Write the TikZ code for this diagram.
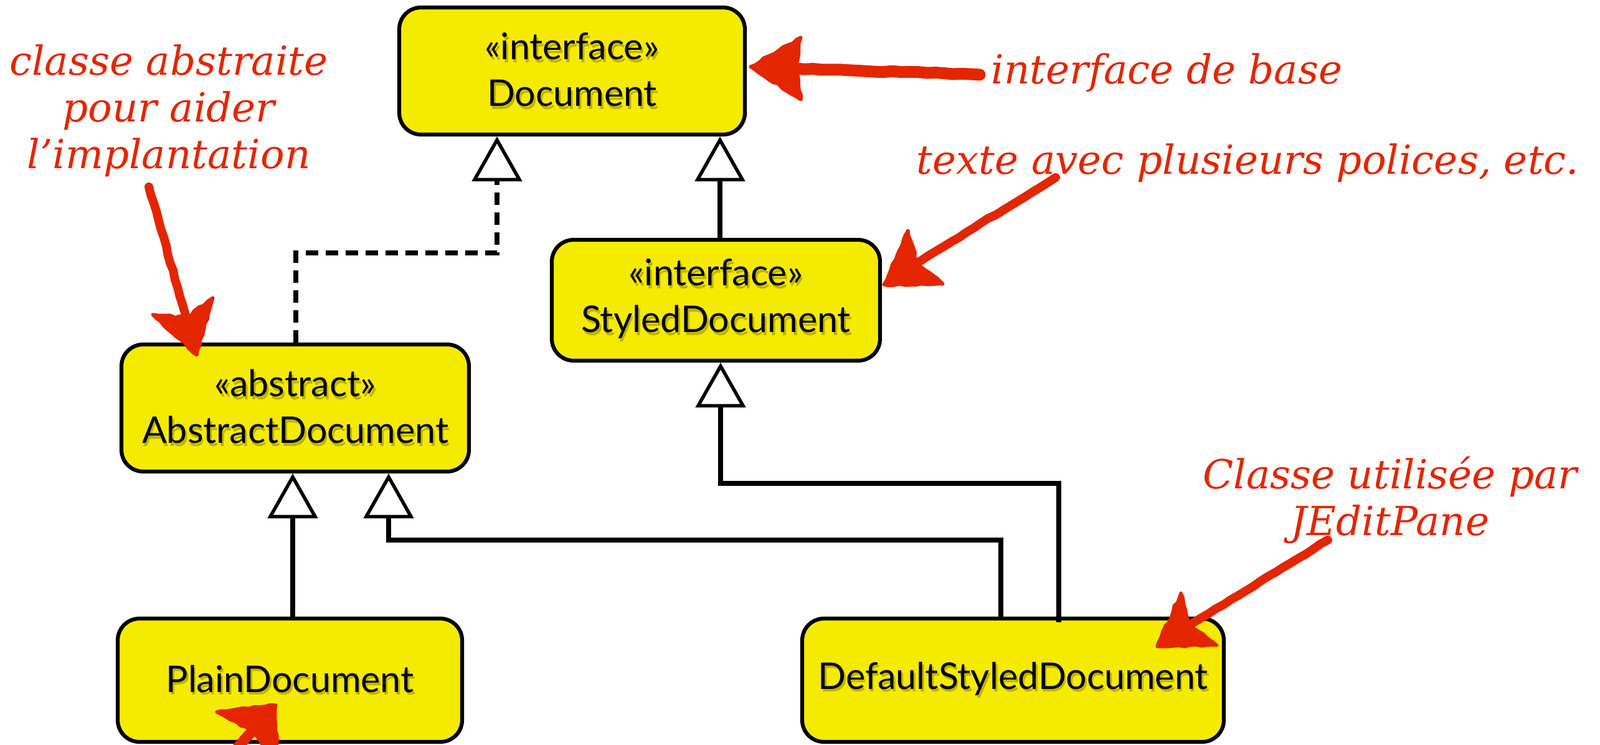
\documentclass[tikz,border=0pt]{standalone}
\usepackage{fontspec}
\setmainfont{Lato}
\newfontfamily\annfont{DejaVu Serif}
\usetikzlibrary{arrows.meta,decorations.pathmorphing,calc}
\definecolor{umlyellow}{RGB}{245,235,0}
\definecolor{shadowyellow}{RGB}{190,180,0}
\definecolor{notered}{RGB}{227,38,0}
\newcommand{\shd}[1]{\leavevmode\rlap{\kern0.8pt\raisebox{-1.3pt}{\textcolor{shadowyellow}{#1}}}#1}
\tikzset{
  umlbox/.style={draw=black, line width=0.062cm, fill=umlyellow, rounded corners=0.35cm,
    inner sep=0pt, align=center, font=\fontsize{16.8pt}{21.3pt}\selectfont},
  gen/.style={line width=0.072cm,
    -{Triangle[fill=white, length=0.72cm, width=0.80cm, line width=0.055cm]}},
  real/.style={gen, dash pattern=on 0.2cm off 0.12cm, line width=0.08cm},
  note/.style={text=notered, inner sep=0pt, align=center,
    font=\annfont\itshape\fontsize{18.3pt}{21.3pt}\selectfont},
  chalkshaft/.style={draw=notered, line cap=round, line join=round, decorate,
    decoration={random steps, segment length=4pt, amplitude=0.3pt}},
  chalkhead/.style={draw=notered, fill=notered, line width=1.5pt, line join=round, decorate,
    decoration={random steps, segment length=2.5pt, amplitude=0.5pt}}
}
\begin{document}
\begin{tikzpicture}
\useasboundingbox (0,0) rectangle (25.69,-11.96);
\clip (0,0) rectangle (25.69,-11.96);

% UML boxes
\node[umlbox, minimum width=5.55cm, minimum height=2.04cm] (doc) at (9.185,-1.14) {\shd{«interface»}\\\shd{Document}};
\node[umlbox, minimum width=5.27cm, minimum height=1.94cm] (styled) at (11.495,-4.82) {\shd{«interface»}\\\shd{StyledDocument}};
\node[umlbox, minimum width=5.58cm, minimum height=2.04cm] (abstract) at (4.74,-6.55) {\shd{«abstract»}\\\shd{AbstractDocument}};
\node[umlbox, minimum width=5.53cm, minimum height=1.98cm] (plain) at (4.655,-10.92) {\shd{PlainDocument}};
\node[umlbox, minimum width=6.77cm, minimum height=1.98cm] (dsd) at (16.265,-10.92) {\shd{DefaultStyledDocument}};

% bend points
\coordinate (d1) at (4.75,-4.06);
\coordinate (d2) at (7.98,-4.06);
\coordinate (s1) at (11.56,-4.06);
\coordinate (p1) at (4.70,-8.00);
\coordinate (a1) at (16.07,-8.67);
\coordinate (a2) at (6.24,-8.67);
\coordinate (b1) at (17.00,-7.76);
\coordinate (b2) at (11.57,-7.76);

% connectors
\draw[real] (abstract.north -| d1) -- (d1) -- (d2) -- (doc.south -| d2);
\draw[gen] (styled.north -| s1) -- (doc.south -| s1);
\draw[gen] (plain.north -| p1) -- (abstract.south -| p1);
\draw[gen] (dsd.north -| a1) -- (a1) -- (a2) -- (abstract.south -| a2);
\draw[gen] ($(dsd.north -| b1)+(0,-0.09)$) -- (b1) -- (b2) -- (styled.south -| b2);

% annotations
\node[note] (n1) at (2.71,-1.78) {classe abstraite\\pour aider\\l’implantation};
\node[note, anchor=base west] (n2) at (15.91,-1.35) {interface de base};
\node[note, anchor=base west] (n3) at (14.71,-2.80) {texte avec plusieurs polices, etc.};
\node[note] (n4) at (22.32,-8.03) {Classe utilisée par\\JEditPane};

% chalk arrows
% A1 -> Document
\coordinate (A1t) at (15.73,-1.20); \coordinate (A1n) at (12.78,-1.10); \coordinate (A1p) at (12.05,-1.07);
\draw[chalkshaft, line width=0.19cm] (A1t) -- (A1n);
\fill[chalkhead] (A1p) -- (12.86,-0.60) -- (A1n) -- (12.86,-1.60) -- cycle;
% A2 -> AbstractDocument
\coordinate (A2t) at (2.39,-3.00); \coordinate (A2n) at (2.99,-5.10); \coordinate (A2p) at (3.16,-5.70);
\draw[chalkshaft, line width=0.14cm] (A2t) -- (A2n);
\fill[chalkhead] (A2p) -- (2.45,-5.05) -- (A2n) -- (3.42,-4.78) -- cycle;
% A3 -> StyledDocument
\coordinate (A3t) at (16.95,-2.85); \coordinate (A3n) at (14.72,-4.22); \coordinate (A3p) at (14.19,-4.57);
\draw[chalkshaft, line width=0.14cm] (A3t) -- (A3n);
\fill[chalkhead] (A3p) -- (14.58,-3.70) -- (A3n) -- (15.14,-4.56) -- cycle;
% A4 -> DefaultStyledDocument
\coordinate (A4t) at (21.32,-8.67); \coordinate (A4n) at (19.11,-10.03); \coordinate (A4p) at (18.58,-10.38);
\draw[chalkshaft, line width=0.14cm] (A4t) -- (A4n);
\fill[chalkhead] (A4p) -- (18.96,-9.52) -- (A4n) -- (19.54,-10.36) -- cycle;
% A5 -> PlainDocument (partly outside)
\coordinate (A5t) at (3.20,-12.70); \coordinate (A5n) at (4.05,-11.74); \coordinate (A5p) at (4.43,-11.32);
\draw[chalkshaft, line width=0.17cm] (A5t) -- (A5n);
\fill[chalkhead] (A5p) -- (3.48,-11.43) -- (A5n) -- (4.44,-12.25) -- cycle;
\end{tikzpicture}
\end{document}
